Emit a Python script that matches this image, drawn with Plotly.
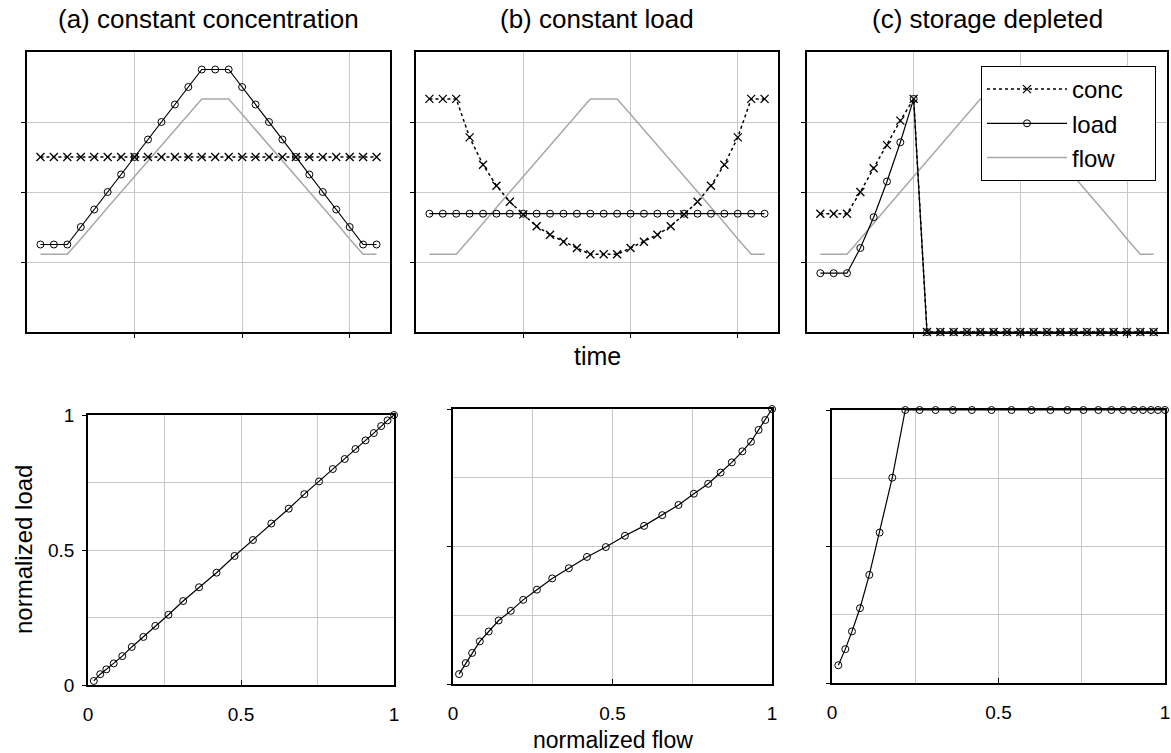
import plotly.graph_objects as go

# ---------------- data ----------------
time = [1, 2, 3, 4, 5, 6, 7, 8, 9, 10, 11, 12, 13, 14, 15, 16, 17, 18, 19, 20, 21, 22, 23, 24, 25, 26]

flow = [1.11, 1.11, 1.11, 1.33, 1.56, 1.78, 2.00, 2.22, 2.44, 2.67, 2.89, 3.11, 3.33,
        3.33, 3.33, 3.11, 2.89, 2.67, 2.44, 2.22, 2.00, 1.78, 1.56, 1.33, 1.11, 1.11]

conc_a = [2.5, 2.5, 2.5, 2.5, 2.5, 2.5, 2.5, 2.5, 2.5, 2.5, 2.5, 2.5, 2.5,
          2.5, 2.5, 2.5, 2.5, 2.5, 2.5, 2.5, 2.5, 2.5, 2.5, 2.5, 2.5, 2.5]
load_a = [1.25, 1.25, 1.25, 1.5, 1.75, 2.0, 2.25, 2.5, 2.75, 3.0, 3.25, 3.5, 3.75,
          3.75, 3.75, 3.5, 3.25, 3.0, 2.75, 2.5, 2.25, 2.0, 1.75, 1.5, 1.25, 1.25]

conc_b = [3.33, 3.33, 3.33, 2.78, 2.39, 2.09, 1.86, 1.68, 1.51, 1.39, 1.29, 1.20, 1.11,
          1.11, 1.11, 1.20, 1.29, 1.39, 1.51, 1.68, 1.86, 2.09, 2.39, 2.78, 3.33, 3.33]
load_b = [1.69, 1.69, 1.69, 1.69, 1.69, 1.69, 1.69, 1.69, 1.69, 1.69, 1.69, 1.69, 1.69,
          1.69, 1.69, 1.69, 1.69, 1.69, 1.69, 1.69, 1.69, 1.69, 1.69, 1.69, 1.69, 1.69]

conc_c = [1.69, 1.69, 1.69, 2.0, 2.34, 2.67, 3.02, 3.33, 0, 0, 0, 0, 0,
          0, 0, 0, 0, 0, 0, 0, 0, 0, 0, 0, 0, 0]
load_c = [0.84, 0.84, 0.84, 1.20, 1.64, 2.15, 2.71, 3.33, 0, 0, 0, 0, 0,
          0, 0, 0, 0, 0, 0, 0, 0, 0, 0, 0, 0, 0]

norm_flow = [0.019, 0.040, 0.060, 0.084, 0.112, 0.143, 0.181, 0.220, 0.263, 0.311, 0.363, 0.420, 0.479,
             0.539, 0.599, 0.656, 0.707, 0.755, 0.800, 0.839, 0.874, 0.907, 0.934, 0.958, 0.979, 1.0]
norm_load_a = [0.015, 0.040, 0.058, 0.080, 0.107, 0.141, 0.178, 0.219, 0.260, 0.311, 0.362, 0.416, 0.478,
               0.537, 0.598, 0.653, 0.707, 0.754, 0.800, 0.837, 0.874, 0.906, 0.933, 0.959, 0.980, 1.0]
norm_load_b = [0.036, 0.076, 0.113, 0.155, 0.191, 0.231, 0.266, 0.306, 0.343, 0.384, 0.421, 0.462, 0.498,
               0.539, 0.575, 0.614, 0.651, 0.692, 0.728, 0.769, 0.806, 0.846, 0.881, 0.924, 0.960, 1.0]
norm_load_c = [0.065, 0.124, 0.189, 0.274, 0.396, 0.551, 0.752, 1.0, 1.0, 1.0, 1.0, 1.0, 1.0,
               1.0, 1.0, 1.0, 1.0, 1.0, 1.0, 1.0, 1.0, 1.0, 1.0, 1.0, 1.0, 1.0]

panel_titles = ["(a) constant concentration", "(b) constant load", "(c) storage depleted"]
series_names = ["conc", "load", "flow"]
top_tickvals_x = [8, 16, 24]
top_tickvals_y = [1, 2, 3]
bottom_ticks = [0, 0.5, 1]
bottom_ticktext = ["0", "0.5", "1"]
bottom_minor = [0.25, 0.75]

# ---------------- layout helpers ----------------
W, H = 1171, 753
FONT = "Liberation Sans, Arial, sans-serif"
GRID = "#c8c8c8"
PAD = "\u00a0\u00a0\u00a0\u00a0"  # right padding inside the legend box


def xd(l, r):
    return [l / W, r / W]


def yd(t, b):
    return [1 - b / H, 1 - t / H]


top_x = [(27, 390), (416, 778), (807, 1167)]
top_y = (52, 332)
bot_x = [(88, 394), (453, 772), (832, 1165)]
bot_y = [(415, 685), (409, 684), (410, 683)]

fig = go.Figure()

top_sets = [(conc_a, load_a), (conc_b, load_b), (conc_c, load_c)]
for i, (conc, load) in enumerate(top_sets):
    xa = "x" if i == 0 else f"x{i + 1}"
    ya = "y" if i == 0 else f"y{i + 1}"
    show = (i == 2)
    fig.add_trace(go.Scatter(
        x=time, y=flow, mode="lines", name=series_names[2], xaxis=xa, yaxis=ya,
        line=dict(color="#a8a8a8", width=1.5), showlegend=show, legendrank=3,
        cliponaxis=False))
    fig.add_trace(go.Scatter(
        x=time, y=conc, mode="lines+markers", name=series_names[0] + PAD, xaxis=xa, yaxis=ya,
        line=dict(color="black", width=1.5, dash="dot"),
        marker=dict(symbol="x-thin", size=8, color="black", line=dict(color="black", width=1.3)),
        showlegend=show, legendrank=1, cliponaxis=False))
    fig.add_trace(go.Scatter(
        x=time, y=load, mode="lines+markers", name=series_names[1], xaxis=xa, yaxis=ya,
        line=dict(color="black", width=1.2),
        marker=dict(symbol="circle-open", size=7, color="black", line=dict(color="black", width=1)),
        showlegend=show, legendrank=2, cliponaxis=False))

bot_sets = [norm_load_a, norm_load_b, norm_load_c]
for i, nl in enumerate(bot_sets):
    xa = f"x{i + 4}"
    ya = f"y{i + 4}"
    fig.add_trace(go.Scatter(
        x=norm_flow, y=nl, mode="lines+markers", xaxis=xa, yaxis=ya, showlegend=False,
        line=dict(color="black", width=1.2),
        marker=dict(symbol="circle-open", size=7, color="black", line=dict(color="black", width=1)),
        cliponaxis=False))

axis_common = dict(showline=True, mirror=True, linecolor="black", linewidth=1.5,
                   showgrid=True, gridcolor=GRID, gridwidth=1, zeroline=False,
                   fixedrange=True, layer="above traces", automargin=False)

layout = dict(width=W, height=H, margin=dict(l=0, r=0, t=0, b=0, pad=0, autoexpand=False),
              paper_bgcolor="white", plot_bgcolor="white",
              font=dict(family=FONT, color="black", size=19))

for i in range(3):
    k = "" if i == 0 else str(i + 1)
    layout[f"xaxis{k}"] = dict(axis_common, domain=xd(*top_x[i]), range=[0, 27],
                               tickvals=top_tickvals_x, showticklabels=False,
                               ticks="outside", ticklen=4, tickcolor="black",
                               anchor=f"y{k}")
    layout[f"yaxis{k}"] = dict(axis_common, domain=yd(*top_y), range=[0, 4],
                               tickvals=top_tickvals_y, showticklabels=False,
                               ticks="outside", ticklen=4, tickcolor="black",
                               anchor=f"x{k}")

for i in range(3):
    k = str(i + 4)
    layout[f"xaxis{k}"] = dict(axis_common, domain=xd(*bot_x[i]), range=[0, 1],
                               tickvals=bottom_ticks, ticktext=bottom_ticktext,
                               ticks="inside", ticklen=5, tickcolor="black",
                               ticklabelstandoff=11, tickfont=dict(size=19),
                               minor=dict(tickvals=bottom_minor, showgrid=True, gridcolor=GRID,
                                          ticks=""),
                               anchor=f"y{k}")
    layout[f"yaxis{k}"] = dict(axis_common, domain=yd(*bot_y[i]), range=[0, 1],
                               tickvals=bottom_ticks, ticktext=bottom_ticktext,
                               showticklabels=(i == 0),
                               ticks="outside", ticklen=4, tickcolor="black",
                               ticklabelstandoff=4, tickfont=dict(size=19),
                               minor=dict(tickvals=bottom_minor, showgrid=True, gridcolor=GRID,
                                          ticks=""),
                               anchor=f"x{k}")

annotations = []
for i, title in enumerate(panel_titles):
    cx = (top_x[i][0] + top_x[i][1]) / 2 / W
    annotations.append(dict(text=title, x=cx, y=1 - 19 / H, xref="paper", yref="paper",
                            xanchor="center", yanchor="middle", showarrow=False,
                            font=dict(size=26, family=FONT, color="black")))
annotations.append(dict(text="time", x=(top_x[1][0] + top_x[1][1]) / 2 / W, y=1 - 356 / H,
                        xref="paper", yref="paper", xanchor="center", yanchor="middle",
                        showarrow=False, font=dict(size=25, family=FONT, color="black")))
annotations.append(dict(text="normalized flow", x=(bot_x[1][0] + bot_x[1][1]) / 2 / W, y=1 - 740 / H,
                        xref="paper", yref="paper", xanchor="center", yanchor="middle",
                        showarrow=False, font=dict(size=23, family=FONT, color="black")))
annotations.append(dict(text="normalized load", x=23 / W, y=1 - 550 / H, textangle=-90,
                        xref="paper", yref="paper", xanchor="center", yanchor="middle",
                        showarrow=False, font=dict(size=24, family=FONT, color="black")))
layout["annotations"] = annotations

layout["legend"] = dict(x=1156 / W, y=1 - 66 / H, xanchor="right", yanchor="top",
                        xref="paper", yref="paper",
                        bgcolor="white", bordercolor="black", borderwidth=1,
                        font=dict(size=24, family=FONT, color="black"),
                        itemwidth=80, tracegroupgap=0)

fig.update_layout(**layout)
fig.write_html("out.html")
